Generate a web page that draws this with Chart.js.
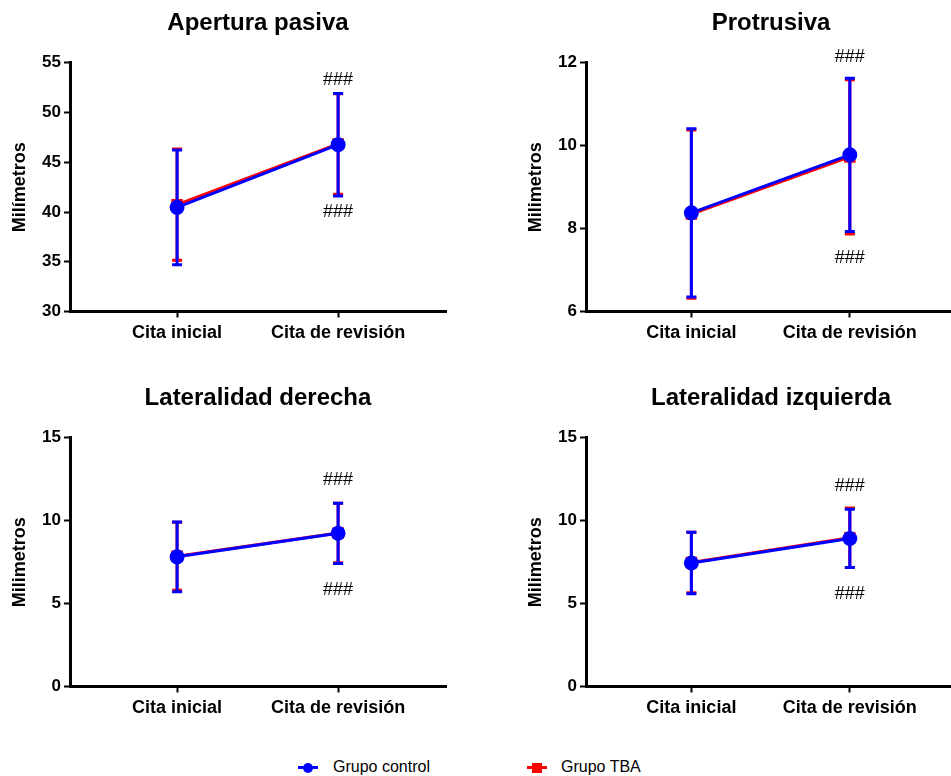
<!DOCTYPE html>
<html>
<head>
<meta charset="utf-8">
<script src="https://cdn.jsdelivr.net/npm/chart.js@4.4.1/dist/chart.umd.min.js"></script>
<style>
  html, body { margin: 0; padding: 0; background: #fff; overflow: hidden; }
  body { width: 951px; height: 776px; position: relative; font-family: "Liberation Sans", Arial, sans-serif; }
  canvas { position: absolute; }
  .leyenda { position: absolute; top: 757px; height: 20px; font-size: 16px; line-height: 20px; color: #000; }
  .marca { position: absolute; top: 9px; left: 0; width: 20px; height: 3px; }
  .punto { position: absolute; top: 6px; left: 5px; width: 10px; height: 10px; }
</style>
</head>
<body>
<canvas id="g1" width="475" height="375" style="left:0;top:0"></canvas>
<canvas id="g2" width="490" height="375" style="left:475px;top:0"></canvas>
<canvas id="g3" width="475" height="375" style="left:0;top:375px"></canvas>
<canvas id="g4" width="490" height="375" style="left:475px;top:375px"></canvas>

<div class="leyenda" style="left:298px;width:160px">
  <div class="marca" style="background:#0000ff"></div>
  <div class="punto" style="background:#0000ff;border-radius:50%"></div>
  <span style="position:absolute;left:35px">Grupo control</span>
</div>
<div class="leyenda" style="left:527px;width:160px">
  <div class="marca" style="background:#ff0000"></div>
  <div class="punto" style="background:#ff0000"></div>
  <span style="position:absolute;left:34px">Grupo TBA</span>
</div>

<script>
var categorias = ['Cita inicial', 'Cita de revisión'];

// Apertura pasiva
var aperturaControl = [40.47, 46.77];
var aperturaControlDE = [5.77, 5.15];
var aperturaTBA = [40.74, 46.84];
var aperturaTBADE = [5.6, 5.05];
var aperturaTicks = [30, 35, 40, 45, 50, 55];
var aperturaHash = [53.3, 40.0];

// Protrusiva
var protrusivaControl = [8.38, 9.78];
var protrusivaControlDE = [2.03, 1.85];
var protrusivaTBA = [8.35, 9.73];
var protrusivaTBADE = [2.03, 1.86];
var protrusivaTicks = [6, 8, 10, 12];
var protrusivaHash = [12.14, 7.3];

// Lateralidad derecha
var derechaControl = [7.82, 9.24];
var derechaControlDE = [2.1, 1.82];
var derechaTBA = [7.85, 9.26];
var derechaTBADE = [2.05, 1.8];
var derechaTicks = [0, 5, 10, 15];
var derechaHash = [12.45, 5.8];

// Lateralidad izquierda
var izquierdaControl = [7.45, 8.93];
var izquierdaControlDE = [1.85, 1.76];
var izquierdaTBA = [7.48, 8.97];
var izquierdaTBADE = [1.82, 1.79];
var izquierdaTicks = [0, 5, 10, 15];
var izquierdaHash = [12.1, 5.55];

Chart.defaults.color = '#000';
Chart.defaults.font.family = '"Liberation Sans", Arial, sans-serif';

// barras de error (media +/- DE), dibujadas antes de cada serie
var barrasError = {
    id: 'barrasError',
    beforeDatasetDraw: function (chart, args) {
        var ds = chart.data.datasets[args.index];
        if (!ds.de) return;
        var ctx = chart.ctx, x = chart.scales.x, y = chart.scales.y;
        ctx.save();
        ctx.strokeStyle = ds.borderColor;
        ctx.lineWidth = 3;
        ds.data.forEach(function (p, i) {
            var px = x.getPixelForValue(p.x);
            var arriba = y.getPixelForValue(p.y + ds.de[i]);
            var abajo = y.getPixelForValue(p.y - ds.de[i]);
            ctx.beginPath();
            ctx.moveTo(px, arriba); ctx.lineTo(px, abajo);
            ctx.moveTo(px - 5, arriba); ctx.lineTo(px + 5, arriba);
            ctx.moveTo(px - 5, abajo); ctx.lineTo(px + 5, abajo);
            ctx.stroke();
        });
        ctx.restore();
    },
    afterDraw: function (chart) {
        var h = chart.options.plugins.barrasError;
        if (!h || !h.hash) return;
        var ctx = chart.ctx;
        ctx.save();
        ctx.font = '18px "Liberation Sans", Arial, sans-serif';
        ctx.fillStyle = '#000';
        ctx.textAlign = 'center';
        ctx.textBaseline = 'middle';
        h.hash.forEach(function (v) {
            ctx.fillText('###', chart.scales.x.getPixelForValue(2), chart.scales.y.getPixelForValue(v));
        });
        ctx.restore();
    }
};

function serie(medias) {
    return medias.map(function (v, i) { return { x: i + 1, y: v }; });
}

function grafico(id, titulo, tituloY, control, controlDE, tba, tbaDE, ticks, hash, padIzq, padDer) {
    var ctx = document.getElementById(id).getContext('2d');
    return new Chart(ctx, {
        type: 'line',
        data: {
            datasets: [{
                label: 'Grupo control',
                data: serie(control),
                de: controlDE,
                borderColor: '#0000ff',
                backgroundColor: '#0000ff',
                borderWidth: 3,
                pointStyle: 'circle',
                pointRadius: 6,
                pointHoverRadius: 6
            }, {
                label: 'Grupo TBA',
                data: serie(tba),
                de: tbaDE,
                borderColor: '#ff0000',
                backgroundColor: '#ff0000',
                borderWidth: 3,
                pointStyle: 'rect',
                pointRadius: 6,
                pointHoverRadius: 6
            }]
        },
        options: {
            responsive: false,
            animation: false,
            layout: { padding: { left: padIzq, right: padDer, top: 0, bottom: 0 } },
            plugins: {
                legend: { display: false },
                tooltip: { enabled: false },
                title: {
                    display: true,
                    text: titulo,
                    fullSize: false,
                    font: { size: 24, weight: 'bold' },
                    padding: { top: 9, bottom: 25 }
                },
                barrasError: { hash: hash }
            },
            scales: {
                x: {
                    type: 'linear',
                    min: 0.335,
                    max: 2.67,
                    afterFit: function (s) { s.height = 63.5; },
                    afterBuildTicks: function (s) {
                        s.ticks = categorias.map(function (c, i) { return { value: i + 1 }; });
                    },
                    border: { color: '#000', width: 3 },
                    grid: { drawOnChartArea: false, tickLength: 6, tickColor: '#000', tickWidth: 2 },
                    ticks: {
                        autoSkip: false, maxRotation: 0, padding: 5,
                        font: { size: 18, weight: 'bold' },
                        callback: function (v) { return categorias[v - 1]; }
                    }
                },
                y: {
                    min: ticks[0],
                    max: ticks[ticks.length - 1],
                    afterFit: function (s) { s.width = 70; },
                    afterBuildTicks: function (s) {
                        s.ticks = ticks.map(function (t) { return { value: t }; });
                    },
                    border: { color: '#000', width: 3 },
                    grid: { drawOnChartArea: false, tickLength: 6, tickColor: '#000', tickWidth: 2 },
                    ticks: { padding: 3, font: { size: 17, weight: 'bold' } },
                    title: {
                        display: true,
                        text: tituloY,
                        font: { size: 18, weight: 'bold' },
                        padding: { top: 9, bottom: 4 }
                    }
                }
            }
        },
        plugins: [barrasError]
    });
}

grafico('g1', 'Apertura pasiva', 'Milímetros', aperturaControl, aperturaControlDE, aperturaTBA, aperturaTBADE, aperturaTicks, aperturaHash, 0, 29);
grafico('g2', 'Protrusiva', 'Milimetros', protrusivaControl, protrusivaControlDE, protrusivaTBA, protrusivaTBADE, protrusivaTicks, protrusivaHash, 41, 4.5);
grafico('g3', 'Lateralidad derecha', 'Milimetros', derechaControl, derechaControlDE, derechaTBA, derechaTBADE, derechaTicks, derechaHash, 0, 29);
grafico('g4', 'Lateralidad izquierda', 'Milimetros', izquierdaControl, izquierdaControlDE, izquierdaTBA, izquierdaTBADE, izquierdaTicks, izquierdaHash, 41, 4.5);
</script>
</body>
</html>
